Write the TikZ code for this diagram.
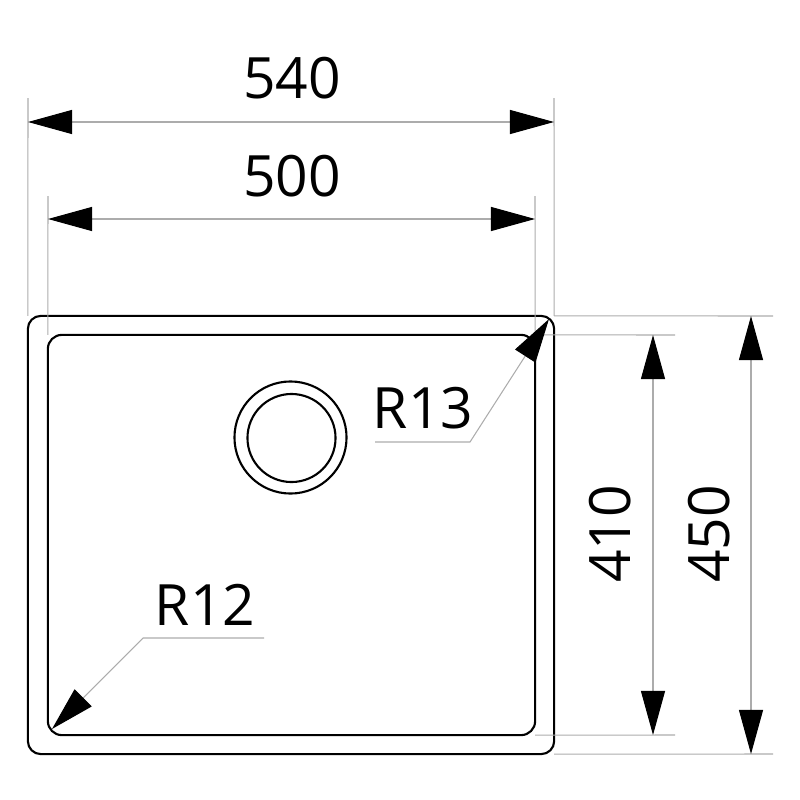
\documentclass[tikz,border=0pt]{standalone}
\usepackage{fontspec}
\setmainfont{Open Sans}
\usetikzlibrary{arrows.meta}
\tikzset{
  outline/.style={draw,black,line width=0.6pt,inner sep=0pt,outer sep=0pt},
  dimline/.style={gray!65,line width=0.3pt},
  dimtip/.style={{Triangle[length=0.44cm,width=0.24cm,color=black]}-{Triangle[length=0.44cm,width=0.24cm,color=black]},dimline},
  leadtip/.style={-{Triangle[length=0.44cm,width=0.24cm,color=black]},dimline},
  dimlabel/.style={inner sep=0pt,font=\fontsize{16.2}{16.2}\selectfont}
}
\begin{document}
\begin{tikzpicture}[x=0.01cm,y=-0.01cm]
  \useasboundingbox (0,0) rectangle (800,800);
  % sink
  \node[outline,rounded corners=0.13cm,minimum width=5.26cm,minimum height=4.38cm] (outer) at (291,535) {};
  \node[outline,rounded corners=0.14cm,minimum width=4.87cm,minimum height=4.00cm] (inner) at (291.5,535) {};
  \node[outline,circle,minimum size=1.12cm] (rim) at (290.5,437.5) {};
  \node[outline,circle,minimum size=0.88cm] (drain) at (291.5,438) {};
  % ends of the dimension lines
  \coordinate (wa) at (28,122);
  \coordinate (wb) at (554,122);
  \coordinate (wc) at (48,219);
  \coordinate (wd) at (535,219);
  \coordinate (wa top) at (28,98);
  \coordinate (wb top) at (554,98);
  \coordinate (wc top) at (48,196);
  \coordinate (wd top) at (535,196);
  \coordinate (ha) at (653,335);
  \coordinate (hb) at (653,735);
  \coordinate (hc) at (751,316);
  \coordinate (hd) at (751,754);
  \coordinate (ha end) at (675,335);
  \coordinate (hb end) at (675,735);
  \coordinate (hc end) at (773,316);
  \coordinate (hd end) at (773,754);
  % extension lines
  \draw[dimline] (wa top)--(outer.north west);
  \draw[dimline] (wb top)--(outer.north east);
  \draw[dimline] (wc top)--(inner.north west);
  \draw[dimline] (wd top)--(inner.north east);
  \draw[dimline] (inner.north east)--(ha end);
  \draw[dimline] (inner.south east)--(hb end);
  \draw[dimline] (outer.north east)--(hc end);
  \draw[dimline] (outer.south east)--(hd end);
  % dimensions
  \draw[dimtip] (wa)--(wb);
  \draw[dimtip] (wc)--(wd);
  \draw[dimtip] (ha)--(hb);
  \draw[dimtip] (hc)--(hd);
  \node[dimlabel] (w540) at (292,78) {540};
  \node[dimlabel] (w500) at (292,176) {500};
  \node[dimlabel,rotate=90] (h410) at (610,534) {410};
  \node[dimlabel,rotate=90] (h450) at (709,534) {450};
  % radii
  \coordinate (ra) at (375,442);
  \coordinate (rb) at (470,442);
  \coordinate (rc) at (549,319);
  \coordinate (rd) at (264,638);
  \coordinate (re) at (143,638);
  \coordinate (rf) at (52,729);
  \draw[leadtip] (ra)--(rb)--(rc);
  \draw[leadtip] (rd)--(re)--(rf);
  \node[dimlabel] (r13) at (423,408) {R13};
  \node[dimlabel] (r12) at (205,605) {R12};
\end{tikzpicture}
\end{document}
